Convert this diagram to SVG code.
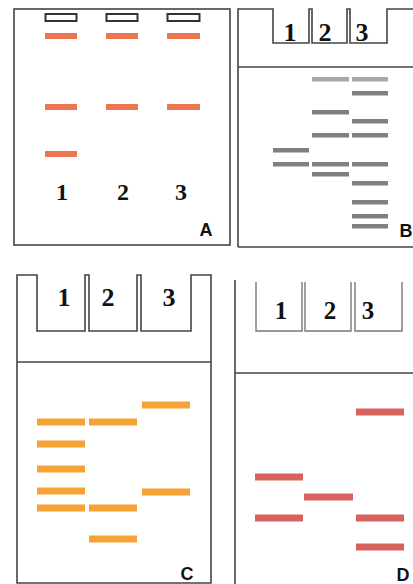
<svg xmlns="http://www.w3.org/2000/svg" width="413" height="584" viewBox="0 0 413 584">
<style>
.frame{fill:none;stroke:#444;stroke-width:1.6}
.well{fill:none;stroke:#777;stroke-width:1.4}
.num{font-family:"Liberation Serif","Times New Roman",serif;font-weight:bold;fill:#111;text-anchor:middle}
.lbl{font-family:"Liberation Sans",Arial,sans-serif;font-weight:bold;fill:#111;text-anchor:middle}
.a{fill:#EB7650}
.b{fill:#808080}
.bl{fill:#a8a8a8}
.c{fill:#F5A236}
.d{fill:#D9625F}
</style>
<rect width="413" height="584" fill="#fff"/>
<g id="panelA">
  <rect class="frame" x="14" y="9" width="216" height="236"/>
  <g fill="#fff" stroke="#333" stroke-width="2">
    <rect x="45.5" y="14" width="31" height="7"/>
    <rect x="106.5" y="14" width="31" height="7"/>
    <rect x="167.5" y="14" width="32" height="7"/>
  </g>
  <rect class="a" x="45" y="33" width="32" height="6"/>
  <rect class="a" x="106" y="33" width="32" height="6"/>
  <rect class="a" x="167" y="33" width="33" height="6"/>
  <rect class="a" x="45" y="104" width="32" height="6"/>
  <rect class="a" x="106" y="104" width="32" height="6"/>
  <rect class="a" x="167" y="104" width="33" height="6"/>
  <rect class="a" x="45" y="151" width="32" height="6"/>
  <text class="num" x="62" y="200" font-size="24">1</text>
  <text class="num" x="123" y="200" font-size="24">2</text>
  <text class="num" x="181" y="200" font-size="24">3</text>
  <text class="lbl" x="206" y="236" font-size="18">A</text>
</g>
<g id="panelB">
  <path class="frame" d="M238,247 V9 H273 V43 H309 V9 H312 V43 H347 V9 H350 V43 H387 V9 H413"/>
  <path class="frame" d="M238,247 H413"/>
  <path class="frame" d="M238,67 H413"/>
  <rect class="bl" x="312" y="77" width="37" height="4.5"/>
  <rect class="bl" x="352" y="77" width="36" height="4.5"/>
  <rect class="b" x="352" y="91" width="36" height="4.5"/>
  <rect class="b" x="312" y="110" width="37" height="4.5"/>
  <rect class="b" x="352" y="119" width="36" height="4.5"/>
  <rect class="b" x="312" y="133" width="37" height="4.5"/>
  <rect class="b" x="352" y="133" width="36" height="4.5"/>
  <rect class="b" x="273" y="148" width="36" height="4.5"/>
  <rect class="b" x="273" y="162" width="36" height="4.5"/>
  <rect class="b" x="312" y="162" width="37" height="4.5"/>
  <rect class="b" x="352" y="162" width="36" height="4.5"/>
  <rect class="b" x="312" y="172" width="37" height="4.5"/>
  <rect class="b" x="352" y="181" width="36" height="4.5"/>
  <rect class="b" x="352" y="200" width="36" height="4.5"/>
  <rect class="b" x="352" y="214" width="36" height="4.5"/>
  <rect class="b" x="352" y="224" width="36" height="4.5"/>
  <text class="num" x="290" y="41" font-size="26">1</text>
  <text class="num" x="325" y="41" font-size="26">2</text>
  <text class="num" x="362" y="41" font-size="26">3</text>
  <text class="lbl" x="406" y="237" font-size="18">B</text>
</g>
<g id="panelC">
  <path class="frame" d="M17,583 V275 H37 V331 H85 V275 H89 V331 H137 V275 H141 V331 H191 V275 H211 V583 Z"/>
  <path class="frame" d="M17,362 H211"/>
  <rect class="c" x="142" y="401.5" width="48" height="7"/>
  <rect class="c" x="37" y="418.5" width="48" height="7"/>
  <rect class="c" x="89" y="418.5" width="48" height="7"/>
  <rect class="c" x="37" y="440.5" width="48" height="7"/>
  <rect class="c" x="37" y="465.5" width="48" height="7"/>
  <rect class="c" x="37" y="487.5" width="48" height="7"/>
  <rect class="c" x="142" y="488.5" width="48" height="7"/>
  <rect class="c" x="37" y="504.5" width="48" height="7"/>
  <rect class="c" x="89" y="504.5" width="48" height="7"/>
  <rect class="c" x="89" y="535.5" width="48" height="7"/>
  <text class="num" x="64" y="306" font-size="26">1</text>
  <text class="num" x="108" y="306" font-size="26">2</text>
  <text class="num" x="169" y="306" font-size="26">3</text>
  <text class="lbl" x="187" y="580" font-size="18">C</text>
</g>
<g id="panelD">
  <path class="frame" d="M235,280 V584"/>
  <path class="frame" d="M235,373 H413"/>
  <path class="well" d="M256,282 V331 H302 V282 M305,282 V331 H351 V282 M355,282 V331 H402 V282"/>
  <rect class="d" x="356" y="408.5" width="48" height="7"/>
  <rect class="d" x="255" y="473.5" width="48" height="7"/>
  <rect class="d" x="304" y="493.5" width="49" height="7"/>
  <rect class="d" x="255" y="514.5" width="48" height="7"/>
  <rect class="d" x="356" y="514.5" width="48" height="7"/>
  <rect class="d" x="356" y="543.5" width="48" height="7"/>
  <text class="num" x="281" y="319" font-size="25">1</text>
  <text class="num" x="330" y="319" font-size="25">2</text>
  <text class="num" x="368" y="319" font-size="25">3</text>
  <text class="lbl" x="403" y="581" font-size="18">D</text>
</g>
</svg>
